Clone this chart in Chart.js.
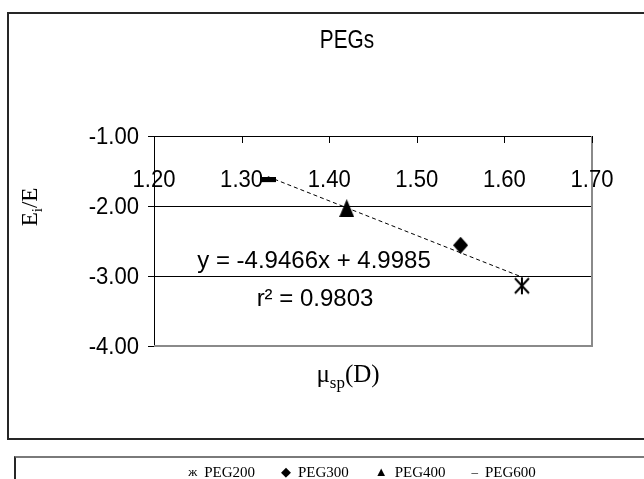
<!DOCTYPE html>
<html>
<head>
<meta charset="utf-8">
<script src="https://cdn.jsdelivr.net/npm/chart.js@4.4.0/dist/chart.umd.min.js"></script>
<style>
  html, body { margin: 0; padding: 0; background: #fff; overflow: hidden; width: 644px; height: 479px; }
  #frame { position: absolute; left: 7px; top: 12px; width: 720px; height: 428px; box-sizing: border-box; border: 2px solid #262626; }
  #legendBox { position: absolute; left: 14px; top: 456px; width: 720px; height: 60px; box-sizing: border-box; border-left: 2px solid #262626; border-top: 2px solid #7a7a7a; }
  canvas { position: absolute; left: 0; top: 0; }
</style>
</head>
<body>
<div id="frame"></div>
<div id="legendBox"></div>
<canvas id="chart" width="644" height="479"></canvas>
<script>
// PEGs: Ei/E against specific viscosity
const seriesLabels = ['PEG200', 'PEG300', 'PEG400', 'PEG600'];
const legendMarks = ['ж', '◆', '▲', '–'];
const xValues = [1.62, 1.55, 1.42, 1.33];
const yValues = [-3.14, -2.56, -2.03, -1.63];

const xTickValues = [1.20, 1.30, 1.40, 1.50, 1.60, 1.70];
const yTickValues = [-1, -2, -3, -4];

// linear trendline as printed on the chart
const slope = -4.9466;
const intercept = 4.9985;
const rSquared = 0.9803;

const sans = '"Liberation Sans", Arial, sans-serif';
const serif = '"Liberation Serif", "Times New Roman", serif';

function markCanvas(w, h, draw) {
  const c = document.createElement('canvas');
  c.width = w;
  c.height = h;
  const g = c.getContext('2d');
  g.fillStyle = '#000';
  g.strokeStyle = '#000';
  draw(g, w, h);
  return c;
}

const markers = [
  markCanvas(18, 19, (g, w, h) => {
    g.lineWidth = 2;
    g.beginPath();
    g.moveTo(2, 2); g.lineTo(w - 2, h - 2);
    g.moveTo(w - 2, 2); g.lineTo(2, h - 2);
    g.moveTo(w / 2, 1); g.lineTo(w / 2, h - 1);
    g.stroke();
  }),
  markCanvas(15, 17, (g, w, h) => {
    g.beginPath();
    g.moveTo(w / 2, 0); g.lineTo(w, h / 2); g.lineTo(w / 2, h); g.lineTo(0, h / 2);
    g.closePath();
    g.fill();
  }),
  markCanvas(15, 18, (g, w, h) => {
    g.beginPath();
    g.moveTo(w / 2, 0); g.lineTo(w, h); g.lineTo(0, h);
    g.closePath();
    g.fill();
  }),
  markCanvas(16, 6, (g, w, h) => {
    g.fillRect(0, 0, w, 5);
  })
];

const trendX = [Math.min(...xValues), Math.max(...xValues)];
const trendPoints = trendX.map(x => ({ x: x, y: slope * x + intercept }));

const datasets = seriesLabels.map((label, i) => ({
  label: label,
  data: [{ x: xValues[i], y: yValues[i] }],
  pointStyle: markers[i],
  pointRadius: 9,
  order: 0
}));

datasets.push({
  label: 'trend',
  type: 'line',
  data: trendPoints,
  borderColor: '#000',
  borderWidth: 1,
  borderDash: [4, 3],
  pointRadius: 0,
  fill: false,
  order: 10
});

function squeezeText(ctx, text, x, y, align, sx) {
  ctx.save();
  ctx.translate(x, y);
  ctx.scale(sx, 1);
  ctx.textAlign = align;
  ctx.fillText(text, 0, 0);
  ctx.restore();
}

const decorations = {
  id: 'decorations',
  beforeDatasetsDraw(chart) {
    const ctx = chart.ctx;
    const area = chart.chartArea;
    const xs = chart.scales.x;

    // grey plot border on the right and bottom
    ctx.save();
    ctx.strokeStyle = '#8a8a8a';
    ctx.lineWidth = 2;
    ctx.beginPath();
    ctx.moveTo(area.right, area.top);
    ctx.lineTo(area.right, area.bottom);
    ctx.lineTo(area.left, area.bottom);
    ctx.stroke();

    // x tick marks point down into the plot
    ctx.strokeStyle = '#000';
    ctx.lineWidth = 1;
    ctx.beginPath();
    xs.ticks.forEach(t => {
      const px = Math.round(xs.getPixelForValue(t.value)) + 0.5;
      ctx.moveTo(px, area.top);
      ctx.lineTo(px, area.top + 7);
    });
    ctx.stroke();

    // x tick labels sit under the top axis
    ctx.fillStyle = '#000';
    ctx.font = '24px ' + sans;
    ctx.textBaseline = 'alphabetic';
    xs.ticks.forEach(t => {
      squeezeText(ctx, t.value.toFixed(2), xs.getPixelForValue(t.value), 187, 'center', 0.92);
    });
    ctx.restore();
  },
  afterDraw(chart) {
    const ctx = chart.ctx;
    const ys = chart.scales.y;
    ctx.save();
    ctx.fillStyle = '#000';
    ctx.textBaseline = 'alphabetic';

    // y tick labels
    ctx.font = '24px ' + sans;
    ys.ticks.forEach(t => {
      squeezeText(ctx, t.value.toFixed(2), 139, ys.getPixelForValue(t.value) + 8, 'right', 0.92);
    });

    // title
    ctx.font = '26px ' + sans;
    squeezeText(ctx, 'PEGs', 347, 48, 'center', 0.8);

    // trendline equation
    ctx.font = '24px ' + sans;
    ctx.textAlign = 'center';
    ctx.fillText('y = ' + slope + 'x + ' + intercept, 314, 268);
    ctx.fillText('r² = ' + rSquared, 315, 306);

    // x axis title with subscript
    const big = '25px ' + serif;
    const small = '17px ' + serif;
    ctx.textAlign = 'left';
    ctx.font = big;
    const wMu = ctx.measureText('μ').width;
    const wD = ctx.measureText('(D)').width;
    ctx.font = small;
    const wSp = ctx.measureText('sp').width;
    let x = 348 - (wMu + wSp + wD) / 2;
    ctx.font = big;
    ctx.fillText('μ', x, 382);
    x += wMu;
    ctx.font = small;
    ctx.fillText('sp', x, 388);
    x += wSp;
    ctx.font = big;
    ctx.fillText('(D)', x, 382);

    // y axis title, rotated, with subscript
    ctx.save();
    ctx.translate(29, 207);
    ctx.rotate(-Math.PI / 2);
    const yBig = '23px ' + serif;
    const ySmall = '15px ' + serif;
    ctx.font = yBig;
    const wE = ctx.measureText('E').width;
    const wRest = ctx.measureText('/E').width;
    ctx.font = ySmall;
    const wI = ctx.measureText('i').width;
    let lx = -(wE + wI + wRest) / 2;
    ctx.font = yBig;
    ctx.fillText('E', lx, 8);
    lx += wE;
    ctx.font = ySmall;
    ctx.fillText('i', lx, 13);
    lx += wI;
    ctx.font = yBig;
    ctx.fillText('/E', lx, 8);
    ctx.restore();

    // legend in the lower box
    const markFont = '13px ' + serif;
    const labelFont = '15px ' + serif;
    const items = seriesLabels.map((label, i) => {
      ctx.font = markFont;
      const mw = ctx.measureText(legendMarks[i]).width;
      ctx.font = labelFont;
      const lw = ctx.measureText(label).width;
      return { mark: legendMarks[i], label: label, mw: mw, lw: lw };
    });
    const innerGap = 7;
    const itemGap = 26;
    const total = items.reduce((s, it) => s + it.mw + innerGap + it.lw, 0) + itemGap * (items.length - 1);
    let gx = 362 - total / 2;
    items.forEach(it => {
      ctx.font = markFont;
      ctx.fillText(it.mark, gx, 476);
      gx += it.mw + innerGap;
      ctx.font = labelFont;
      ctx.fillText(it.label, gx, 477);
      gx += it.lw + itemGap;
    });

    ctx.restore();
  }
};

new Chart(document.getElementById('chart'), {
  type: 'scatter',
  data: { datasets: datasets },
  options: {
    responsive: false,
    animation: false,
    devicePixelRatio: 1,
    layout: { padding: { left: 148, top: 136, right: 52, bottom: 133 } },
    plugins: {
      legend: { display: false },
      title: { display: false },
      tooltip: { enabled: false }
    },
    scales: {
      x: {
        type: 'linear',
        position: 'top',
        min: 1.2,
        max: 1.7,
        afterBuildTicks: scale => { scale.ticks = xTickValues.map(v => ({ value: v })); },
        afterFit: scale => { scale.height = 0; },
        ticks: { display: false },
        grid: { display: true, drawOnChartArea: false, drawTicks: false },
        border: { display: true, color: '#000', width: 1 }
      },
      y: {
        type: 'linear',
        min: -4,
        max: -1,
        afterBuildTicks: scale => { scale.ticks = yTickValues.map(v => ({ value: v })); },
        afterFit: scale => { scale.width = 6; },
        ticks: { display: false },
        grid: {
          color: c => (c.tick && (c.tick.value === -1 || c.tick.value === -4)) ? 'rgba(0,0,0,0)' : '#000',
          tickColor: '#000',
          tickLength: 6,
          lineWidth: 1
        },
        border: { display: true, color: '#000', width: 1 }
      }
    }
  },
  plugins: [decorations]
});
</script>
</body>
</html>
